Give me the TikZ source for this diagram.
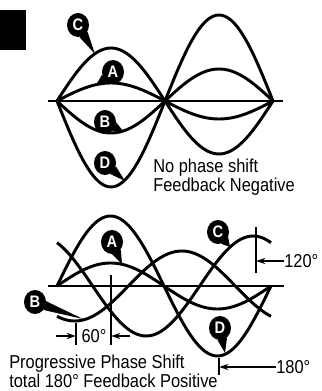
\documentclass[tikz,border=0pt]{standalone}
\usepackage{fontspec}
\setmainfont{Liberation Sans}[FakeStretch=0.88]
\usetikzlibrary{arrows.meta,calc,shapes.geometric}
\definecolor{InkBlack}{HTML}{000000}
\tikzset{
  wave/.style={InkBlack,line width=2.2pt,line join=round},
  axisline/.style={InkBlack,line width=1.3pt},
  tagdot/.style={ellipse,fill=InkBlack,text=white,inner sep=0pt,
    minimum width=16.5pt,minimum height=18pt,font=\bfseries\fontsize{12.5}{12.5}\selectfont},
  markline/.style={InkBlack,line width=1pt},
  markarrow/.style={InkBlack,line width=1pt,-{Stealth[length=7pt,width=4.5pt]}},
  caption/.style={font=\fontsize{14}{14.5}\selectfont,align=left,inner sep=0pt,anchor=west},
}
% balloon tail from a letter tag to a point of its curve
\newcommand\pinto[2]{%
  \fill[InkBlack] let \p1=($(#2)-(#1.center)$), \n1={atan2(\y1,\x1)} in
    (#1.{\n1+24}) -- (#2) -- (#1.{\n1-24}) -- cycle;}

\begin{document}
\begin{tikzpicture}[x=0.75pt,y=-0.75pt]
  \useasboundingbox (0,0) rectangle (321,391);
  \fill[InkBlack] (0,10) rectangle (26,50);

  % upper panel: no phase shift
  \draw[axisline] (48,101) -- (283,101);
  \foreach \amp in {18,-32,53,-86}
    \draw[wave] plot[domain=0:360,samples=73,smooth] ({57+\x/360*216},{101-\amp*sin(\x)});
  \foreach \tag/\at/\tip in {C/{78,25}/{95,54},A/{113,72}/{96,85},B/{105,122}/{123,131},D/{105,163}/{125,181}} {
    \node[tagdot] (up\tag) at (\at) {\tag};
    \coordinate (upTip\tag) at (\tip);
    \pinto{up\tag}{upTip\tag}
  }
  \node[caption] (capUp) at (153,177.5) {No phase shift\\Feedback Negative};

  % lower panel: 60 degrees per stage
  \draw[axisline] (48,286) -- (284,286);
  \foreach \amp/\ph in {23/0,-35/60,-50/-60,70/0}
    \draw[wave] plot[domain=0:360,samples=73,smooth] ({57+\x/360*214},{286-\amp*sin(\x+\ph)});
  \foreach \tag/\at/\tip in {A/{112,242}/{122,264},B/{35,302}/{83,319},C/{218,232}/{230,247},D/{220,328}/{225,353}} {
    \node[tagdot] (lo\tag) at (\at) {\tag};
    \coordinate (loTip\tag) at (\tip);
    \pinto{lo\tag}{loTip\tag}
  }

  % 60 degree gap
  \coordinate (g60a) at (76,323);   \coordinate (g60b) at (76,345);
  \coordinate (g60c) at (111,275);  \coordinate (g60d) at (111,345);
  \draw[markline] (g60a) -- (g60b);
  \draw[markline] (g60c) -- (g60d);
  \coordinate (g60l) at (56,336);   \coordinate (g60r) at (130,336);
  \draw[markarrow] (g60l) -- (g60a |- g60l);
  \draw[markarrow] (g60r) -- (g60c |- g60r);
  \node[font=\fontsize{14}{14}\selectfont,inner sep=0pt] (lab60) at (94,336) {60°};

  % 120 degree mark
  \coordinate (g120a) at (256,227); \coordinate (g120b) at (256,273);
  \draw[markline] (g120a) -- (g120b);
  \node[caption] (lab120) at (284,261) {120°};
  \draw[markarrow] (lab120.west) -- (g120a |- lab120.west);

  % 180 degree mark
  \coordinate (g180a) at (219,358); \coordinate (g180b) at (219,375);
  \draw[markline] (g180a) -- (g180b);
  \node[caption] (lab180) at (276,367) {180°};
  \draw[markarrow] (lab180.west) -- (g180a |- lab180.west);

  \node[caption] (capLo) at (9,371) {Progressive Phase Shift\\total 180° Feedback Positive};
\end{tikzpicture}
\end{document}
